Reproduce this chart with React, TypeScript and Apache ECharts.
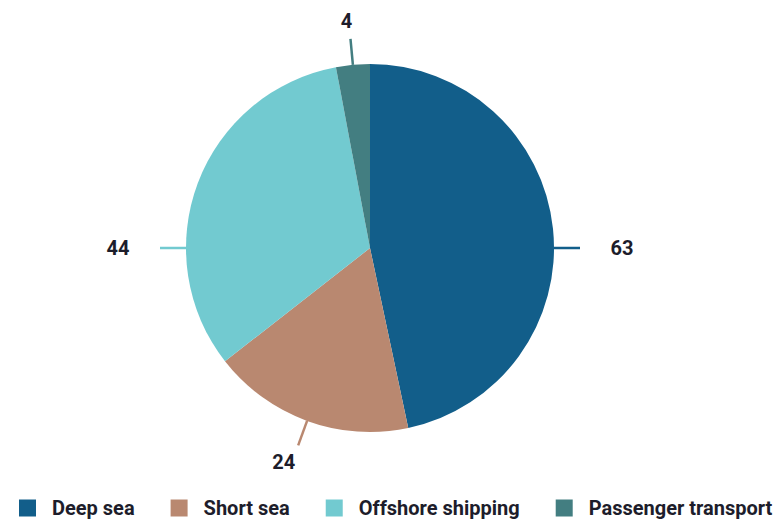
import React, { useEffect, useRef } from "react";
import * as echarts from "echarts";

const categories = ["Deep sea", "Short sea", "Offshore shipping", "Passenger transport"];
const values = [63, 24, 44, 4];
const colors = ["#125E8A", "#B98870", "#72CAD0", "#437E81"];

const CX = 370;
const CY = 248;
const R = 184;
const LINE_LEN = 26;

function labelAngle(i: number): number {
  const total = values.reduce((a, b) => a + b, 0);
  let before = 0;
  for (let k = 0; k < i; k++) before += values[k];
  let deg = ((before + values[i] / 2) / total) * 360; // clockwise from top
  // snap near-horizontal labels to horizontal
  if (Math.abs(deg - 90) < 22) deg = 90;
  if (Math.abs(deg - 270) < 22) deg = 270;
  return (deg * Math.PI) / 180;
}

export default function App() {
  const ref = useRef<HTMLDivElement>(null);
  useEffect(() => {
    if (!ref.current) return;
    const chart = echarts.init(ref.current, undefined, { renderer: "svg" });
    const data = categories.map((name, i) => ({ name, value: values[i] }));
    chart.setOption({
      animation: false,
      color: colors,
      textStyle: { fontFamily: "Roboto" },
      legend: {
        data: categories,
        bottom: 4,
        left: 19,
        width: 758,
        padding: 0,
        icon: "rect",
        itemWidth: 17,
        itemHeight: 17,
        itemGap: 36,
        textStyle: {
          fontFamily: "Roboto",
          fontWeight: "bold",
          fontSize: 20,
          color: "#1d1d2b",
          padding: [0, 0, 0, 11],
        },
        selectedMode: false,
      },
      series: [
        {
          type: "pie",
          center: [CX, CY],
          radius: R,
          startAngle: 90,
          clockwise: true,
          avoidLabelOverlap: false,
          silent: true,
          data,
          label: {
            show: true,
            formatter: "{c}",
            fontFamily: "Roboto",
            fontWeight: "bold",
            fontSize: 20,
            color: "#1d1d2b",
          },
          labelLine: { show: true, length: LINE_LEN, length2: 0, smooth: false, lineStyle: { width: 2.5 } },
          labelLayout: (params: any) => {
            const a = labelAngle(params.dataIndex);
            const dx = Math.sin(a);
            const dy = -Math.cos(a);
            const p1 = [CX + dx * R, CY + dy * R];
            const p2 = [CX + dx * (R + LINE_LEN), CY + dy * (R + LINE_LEN)];
            return {
              x: p2[0] + dx * 42,
              y: p2[1] + dy * 18,
              align: "center",
              verticalAlign: "middle",
              labelLinePoints: [p1, p2],
            };
          },
        },
      ],
    });
    return () => chart.dispose();
  }, []);
  return (
    <div
      ref={ref}
      style={{ position: "fixed", left: 0, top: 0, width: 777, height: 522, background: "#fff" }}
    />
  );
}
